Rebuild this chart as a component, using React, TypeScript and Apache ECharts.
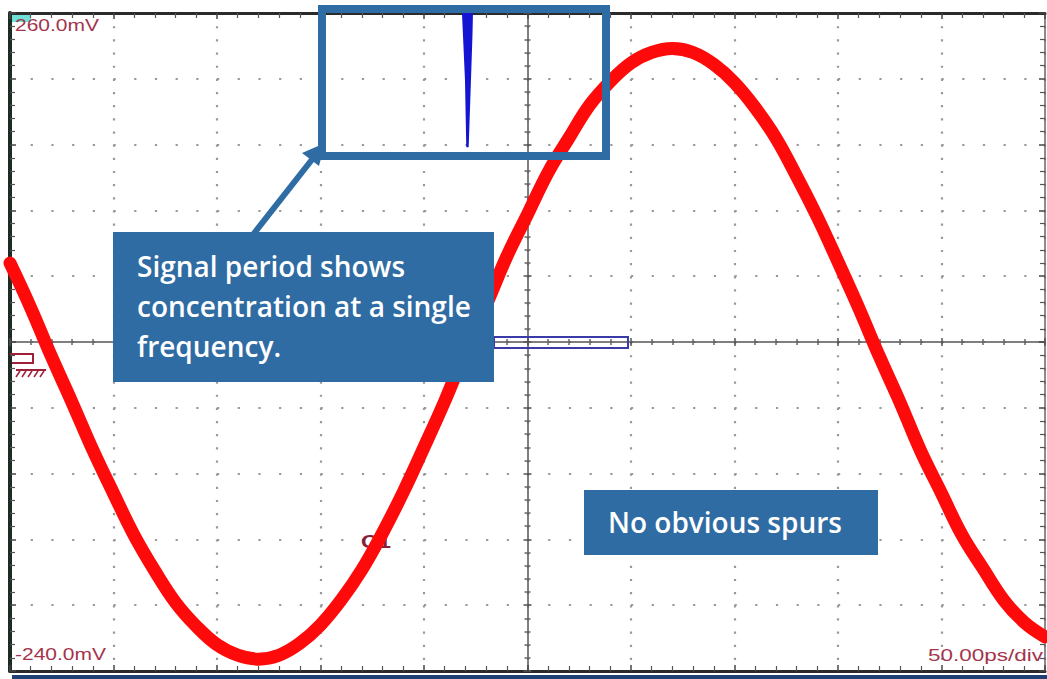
import React, { useEffect, useRef } from "react";
import * as echarts from "echarts";

// Waveform (time in ps, voltage in mV)
const timePs = [0, 10, 20, 30, 40, 50, 60, 70, 80, 90, 100, 110, 120, 130, 140, 150, 160, 170, 180, 190, 200, 210, 220, 230, 240, 250, 260, 270, 280, 290, 300, 310, 320, 330, 340, 350, 360, 370, 380, 390, 400, 410, 420, 430, 440, 450, 460, 470, 480, 490, 500];
const voltageMv = [70, 36, -1, -36, -72, -105, -137, -164, -188, -206, -220, -228, -231, -228, -219, -205, -186, -163, -135, -104, -70, -35, 3, 38, 75, 107, 139, 165, 190, 208, 222, 230, 233, 230, 221, 207, 188, 165, 136, 105, 71, 36, -1, -36, -73, -105, -137, -162, -186, -203, -214];

// Blue spike in the inset (time position and its profile levels in mV)
const spikeTimePs = 221;
const spikeLevelsMv = [260, 243, 209, 158];

// Screen scale
const timeMinPs = 0;
const timeMaxPs = 500;
const timePerDivPs = 50;
const voltMinMv = -240;
const voltMaxMv = 260;

// Screen texts
const topLabel = "260.0mV";
const bottomLabel = "-240.0mV";
const scaleLabel = "50.00ps/div";
const channelLabel = "C1";
const note1Lines = ["Signal period shows", "concentration at a single", "frequency."];
const note2Text = "No obvious spurs";

const GRID = { left: 10, top: 13, width: 1035, height: 658 };
const BLUE = "#2f6ca3";
const LABEL_RED = "#a3354d";
const SCOPE_FONT = "15px 'Liberation Sans', Arial, sans-serif";
const NOTE_FONT = "600 28px 'Open Sans', sans-serif";

function divAxis(extra: any) {
  return {
    type: "value",
    min: -5,
    max: 5,
    interval: 1,
    axisLabel: { show: false },
    splitLine: { show: false },
    minorSplitLine: { show: false },
    axisTick: { show: true, inside: true, length: 6, lineStyle: { color: "#444", width: 1.5 } },
    minorTick: { show: true, splitNumber: 5, length: 5, lineStyle: { color: "#555", width: 1.2 } },
    ...extra,
  };
}

export default function App() {
  const ref = useRef<HTMLDivElement>(null);
  useEffect(() => {
    if (!ref.current) return;
    const chart = echarts.init(ref.current, undefined, { renderer: "svg" });
    const wave = timePs.map((t, i) => [t, voltageMv[i]]);
    const vStepX = GRID.width / 50;
    const vStepY = GRID.height / 50;

    const option: any = {
      animation: false,
      backgroundColor: "#ffffff",
      grid: { ...GRID, show: false },
      xAxis: [
        {
          type: "value",
          min: timeMinPs,
          max: timeMaxPs,
          interval: timePerDivPs,
          position: "bottom",
          axisLine: { show: true, onZero: false, lineStyle: { color: "#2a2a2a", width: 3 } },
          axisTick: { show: true, inside: true, length: 6, lineStyle: { color: "#444", width: 1.5 } },
          minorTick: { show: true, splitNumber: 5, length: 5, lineStyle: { color: "#555", width: 1.2 } },
          axisLabel: { show: false },
          splitLine: { show: true, lineStyle: { color: "#999", width: 2.2, type: [2.2, vStepY - 2.2] } },
        },
        divAxis({ position: "top", axisLine: { show: true, onZero: false, lineStyle: { color: "#2a2a2a", width: 3 } } }),
        divAxis({
          position: "bottom",
          axisLine: { show: true, onZero: true, onZeroAxisIndex: 3, lineStyle: { color: "#555", width: 1.5 } },
          axisTick: { show: true, inside: false, length: 4, lineStyle: { color: "#555", width: 1.5 } },
          minorTick: { show: true, splitNumber: 5, length: 3, lineStyle: { color: "#666", width: 1.5 } },
        }),
        divAxis({
          position: "bottom",
          axisLine: { show: false, onZero: true, onZeroAxisIndex: 3 },
          axisTick: { show: true, inside: true, length: 4, lineStyle: { color: "#555", width: 1.5 } },
          minorTick: { show: true, splitNumber: 5, length: 3, lineStyle: { color: "#666", width: 1.5 } },
        }),
      ],
      yAxis: [
        { type: "value", min: voltMinMv, max: voltMaxMv, show: false, axisLine: { onZero: false } },
        divAxis({
          position: "left",
          axisLine: { show: true, onZero: false, lineStyle: { color: "#1e2b22", width: 4 } },
          splitLine: { show: true, lineStyle: { color: "#999", width: 2.2, type: [2.2, vStepX - 2.2] } },
        }),
        divAxis({ position: "right", axisLine: { show: true, onZero: false, lineStyle: { color: "#666", width: 1.5 } } }),
        divAxis({
          position: "left",
          axisLine: { show: true, onZero: true, onZeroAxisIndex: 2, lineStyle: { color: "#555", width: 1.5 } },
          axisTick: { show: true, inside: false, length: 4, lineStyle: { color: "#555", width: 1.5 } },
          minorTick: { show: true, splitNumber: 5, length: 3, lineStyle: { color: "#666", width: 1.5 } },
        }),
        divAxis({
          position: "left",
          axisLine: { show: false, onZero: true, onZeroAxisIndex: 2 },
          axisTick: { show: true, inside: true, length: 4, lineStyle: { color: "#555", width: 1.5 } },
          minorTick: { show: true, splitNumber: 5, length: 3, lineStyle: { color: "#666", width: 1.5 } },
        }),
      ],
      series: [
        {
          type: "line",
          xAxisIndex: 0,
          yAxisIndex: 0,
          data: wave,
          smooth: 0.4,
          symbol: "none",
          z: 5,
          lineStyle: { color: "#ff0a0a", width: 13, cap: "round", join: "round" },
        },
        {
          type: "custom",
          xAxisIndex: 0,
          yAxisIndex: 0,
          z: 6,
          data: [[spikeTimePs, ...spikeLevelsMv]],
          renderItem: (_params: any, api: any) => {
            const t = api.value(0);
            const p0 = api.coord([t, api.value(1)]);
            const p1 = api.coord([t, api.value(2)]);
            const p2 = api.coord([t, api.value(3)]);
            const p3 = api.coord([t, api.value(4)]);
            return {
              type: "polygon",
              shape: {
                points: [
                  [p0[0] - 5.5, p0[1]],
                  [p0[0] + 5.5, p0[1]],
                  [p1[0] + 5, p1[1]],
                  [p2[0] + 3.5, p2[1]],
                  [p3[0] + 1.2, p3[1]],
                  [p3[0] - 1.2, p3[1]],
                  [p2[0] - 2.5, p2[1]],
                  [p1[0] - 4.5, p1[1]],
                ],
              },
              style: { fill: "#1414d2" },
            };
          },
        },
      ],
      graphic: [
        // channel reference (ground) marker
        {
          type: "polyline",
          z: 1,
          shape: { points: [[10, 354], [33, 354], [33, 363], [12, 363]] },
          style: { stroke: "#a0203a", lineWidth: 2, fill: "none" },
        },
        {
          type: "line",
          z: 1,
          shape: { x1: 16, y1: 370, x2: 46, y2: 370 },
          style: { stroke: "#a0203a", lineWidth: 2 },
        },
        ...[20, 26, 32, 38, 44].map((x) => ({
          type: "line",
          z: 1,
          shape: { x1: x, y1: 371, x2: x - 4, y2: 377 },
          style: { stroke: "#a0203a", lineWidth: 1.5 },
        })),
        // cyan corner
        { type: "rect", z: 0, shape: { x: 11, y: 14, width: 20, height: 8 }, style: { fill: "#6fe0d8" } },
        // screen labels
        {
          type: "text",
          z: 1,
          x: 15,
          y: 18,
          scaleX: 1.4,
          scaleY: 1.05,
          style: { text: topLabel, fill: LABEL_RED, font: SCOPE_FONT },
        },
        {
          type: "text",
          z: 1,
          x: 15,
          y: 647,
          scaleX: 1.4,
          scaleY: 1.05,
          style: { text: bottomLabel, fill: LABEL_RED, font: SCOPE_FONT },
        },
        {
          type: "text",
          z: 1,
          x: 1043,
          y: 647,
          scaleX: 1.5,
          scaleY: 1.05,
          style: { text: scaleLabel, fill: LABEL_RED, align: "right", font: SCOPE_FONT },
        },
        {
          type: "text",
          z: 1,
          x: 361,
          y: 533,
          scaleX: 1.3,
          style: { text: channelLabel, fill: "#8a2035", font: "bold 18px 'Liberation Sans', Arial, sans-serif" },
        },
        // timebase bar
        {
          type: "rect",
          z: 1,
          shape: { x: 494, y: 337, width: 134, height: 11 },
          style: { stroke: "#3a3aa8", lineWidth: 2, fill: "none" },
        },
        // annotation frame
        {
          type: "rect",
          z: 20,
          shape: { x: 322, y: 9, width: 284, height: 147 },
          style: { stroke: BLUE, lineWidth: 8, fill: "none" },
        },
        // arrow
        {
          type: "line",
          z: 20,
          shape: { x1: 252, y1: 236, x2: 314, y2: 157 },
          style: { stroke: BLUE, lineWidth: 6 },
        },
        {
          type: "polygon",
          z: 20,
          shape: { points: [[325, 143], [319, 166], [302, 153]] },
          style: { fill: BLUE },
        },
        // note 1
        {
          type: "rect",
          z: 20,
          shape: { x: 113, y: 232, width: 381, height: 150 },
          style: { fill: BLUE },
        },
        ...note1Lines.map((line, i) => ({
          type: "text",
          z: 21,
          x: 137,
          y: 266 + i * 40,
          style: {
            text: line,
            fill: "#ffffff",
            verticalAlign: "middle",
            font: NOTE_FONT,
          },
        })),
        // note 2
        {
          type: "rect",
          z: 20,
          shape: { x: 584, y: 490, width: 294, height: 65 },
          style: { fill: BLUE },
        },
        {
          type: "text",
          z: 21,
          x: 608,
          y: 522,
          style: { text: note2Text, fill: "#ffffff", verticalAlign: "middle", font: NOTE_FONT },
        },
        // bottom band
        { type: "rect", z: 20, shape: { x: 12, y: 675, width: 1035, height: 4 }, style: { fill: "#1d3f73" } },
      ],
    };
    chart.setOption(option);
    return () => chart.dispose();
  }, []);
  return (
    <div
      ref={ref}
      style={{ position: "fixed", left: 0, top: 0, width: 1047, height: 679, background: "#fff" }}
    />
  );
}
